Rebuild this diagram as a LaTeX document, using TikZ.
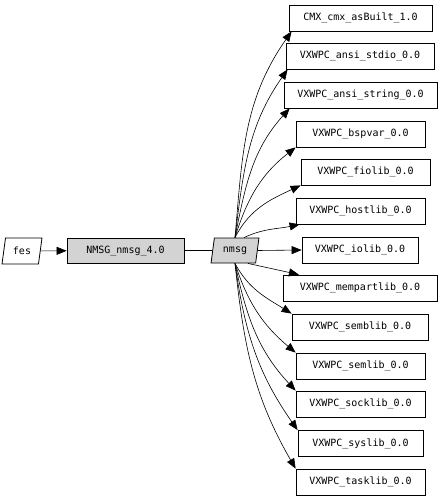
\documentclass[tikz,border=0pt]{standalone}
\usepackage{fontspec}
\setmonofont{DejaVu Sans Mono}
\usetikzlibrary{arrows.meta,shapes.geometric}
\definecolor{gvgray}{RGB}{211,211,211}

\begin{document}
\begin{tikzpicture}[x=1pt,y=1pt,>={Triangle[length=10pt,width=8pt]},
  every node/.style={font=\ttfamily\fontsize{10}{12}\selectfont},
  box/.style={draw,line width=0.8pt,minimum height=26pt,inner sep=0pt},
  para/.style={draw,line width=0.8pt,trapezium,trapezium left angle=76,trapezium right angle=104,trapezium stretches=true,minimum height=26pt,inner sep=0pt},
  dep/.style={->,line width=0.6pt}]
 \useasboundingbox (0,0) rectangle (442,-498);
 \node[para,minimum width=40pt] (fes) at (22,-251) {fes};
 \node[box,fill=gvgray,minimum width=117pt,minimum height=25pt] (nmsg4) at (125.5,-250.5) {NMSG\_nmsg\_4.0};
 \node[para,fill=gvgray,minimum width=48pt,minimum height=25pt] (nmsg) at (235,-250.5) {nmsg};
 \node[box,minimum width=143pt] (cmx)   at (360.5,-18)  {CMX\_cmx\_asBuilt\_1.0};
 \node[box,minimum width=148pt] (stdio) at (360,-56)    {VXWPC\_ansi\_stdio\_0.0};
 \node[box,minimum width=153pt] (strng) at (360.5,-95)  {VXWPC\_ansi\_string\_0.0};
 \node[box,minimum width=129pt] (bsp)   at (360.5,-134) {VXWPC\_bspvar\_0.0};
 \node[box,minimum width=129pt] (fio)   at (365.5,-172) {VXWPC\_fiolib\_0.0};
 \node[box,minimum width=129pt] (host)  at (360.5,-211) {VXWPC\_hostlib\_0.0};
 \node[box,minimum width=116pt] (io)    at (360,-250)   {VXWPC\_iolib\_0.0};
 \node[box,minimum width=154pt] (mpart) at (360,-288)   {VXWPC\_mempartlib\_0.0};
 \node[box,minimum width=136pt] (semb)  at (360,-327)   {VXWPC\_semblib\_0.0};
 \node[box,minimum width=129pt] (sem)   at (360.5,-366) {VXWPC\_semlib\_0.0};
 \node[box,minimum width=129pt] (sock)  at (360.5,-404) {VXWPC\_socklib\_0.0};
 \node[box,minimum width=125pt] (sys)   at (360.5,-443.5) {VXWPC\_syslib\_0.0};
 \node[box,minimum width=129pt] (task)  at (360.5,-482) {VXWPC\_tasklib\_0.0};
 \draw[dep] (fes) -- (nmsg4);
 \draw[line width=0.6pt] (nmsg4) -- (nmsg);
 \draw[dep] (nmsg.north) to[out=85,in=235] ([xshift=3pt]cmx.south west);
 \draw[dep] (nmsg.north) to[out=83,in=235] ([xshift=2pt]stdio.south west);
 \draw[dep] (nmsg.north) to[out=79,in=228] ([xshift=6pt]strng.south west);
 \draw[dep] (nmsg.north) to[out=73,in=218] (bsp.south west);
 \draw[dep] (nmsg.north) to[out=63,in=205] (fio.south west);
 \draw[dep] ([xshift=-4pt]nmsg.north east) to[out=25,in=192] ([xshift=4pt]host.south west);
 \draw[dep] (nmsg.east) -- (io.west);
 \draw[dep] (nmsg.south east) -- (mpart);
 \draw[dep] (nmsg.south) to[out=-62,in=148] (semb.north west);
 \draw[dep] (nmsg.south) to[out=-72,in=140] (sem.north west);
 \draw[dep] (nmsg.south) to[out=-78,in=133] (sock.north west);
 \draw[dep] (nmsg.south) to[out=-82,in=125] (sys.north west);
 \draw[dep] (nmsg.south) to[out=-84,in=120] (task.north west);
\end{tikzpicture}
\end{document}
